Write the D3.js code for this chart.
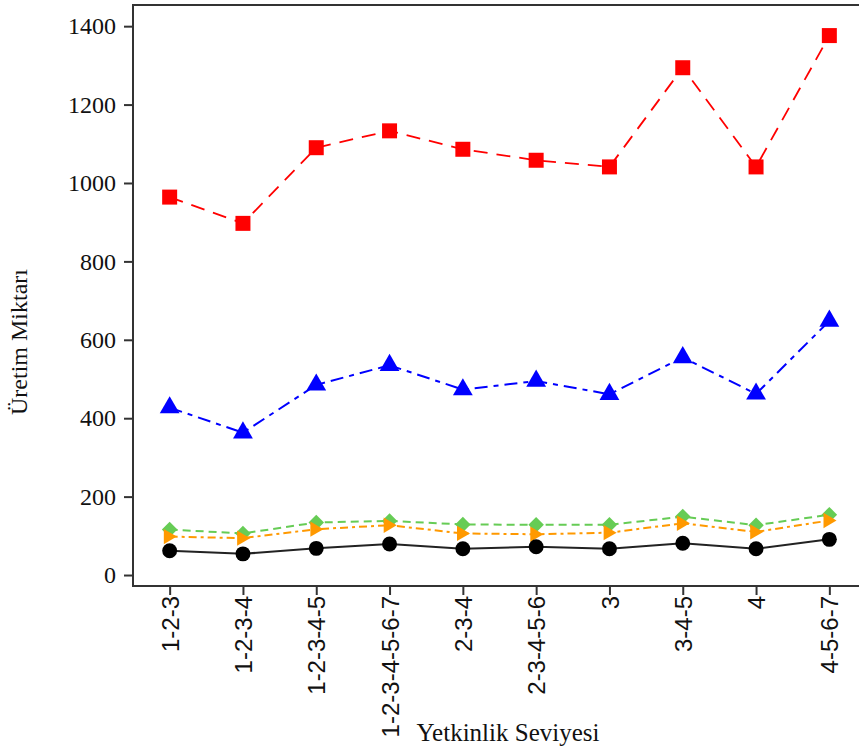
<!DOCTYPE html>
<html>
<head>
<meta charset="utf-8">
<script src="https://cdn.jsdelivr.net/npm/d3@7"></script>
<style>
  html, body { margin: 0; padding: 0; background: #fff; }
  svg { display: block; }
</style>
</head>
<body>
<svg id="chart" width="859" height="754"></svg>
<script>
// Competence levels on the x axis
const categories = ["1-2-3", "1-2-3-4", "1-2-3-4-5", "1-2-3-4-5-6-7", "2-3-4",
                    "2-3-4-5-6", "3", "3-4-5", "4", "4-5-6-7"];

// Production amounts per series
const redValues    = [964, 897, 1090, 1133, 1086, 1058, 1041, 1294, 1041, 1376];
const blueValues   = [427, 363, 485, 535, 473, 495, 461, 555, 462, 648];
const greenValues  = [116, 106, 134, 138, 129, 128, 128, 149, 127, 154];
const orangeValues = [98, 94, 117, 127, 106, 104, 108, 132, 110, 139];
const blackValues  = [62, 54, 68, 79, 67, 72, 67, 81, 67, 91];

const yTicks = [0, 200, 400, 600, 800, 1000, 1200, 1400];

const xTitle = "Yetkinlik Seviyesi";
const yTitle = "Üretim Miktarı";

const svg = d3.select("#chart");

const frame = { left: 133, right: 866, top: 5, bottom: 586 };

const x = d3.scalePoint()
  .domain(categories)
  .range([frame.left, frame.right])
  .padding(0.5);

const y = d3.scaleLinear()
  .domain([-28, 1454])
  .range([frame.bottom, frame.top]);

// Plot frame
svg.append("rect")
  .attr("x", frame.left)
  .attr("y", frame.top)
  .attr("width", frame.right - frame.left)
  .attr("height", frame.bottom - frame.top)
  .attr("fill", "none")
  .attr("stroke", "#333")
  .attr("stroke-width", 2);

// Y axis
const yAxis = svg.append("g")
  .attr("transform", `translate(${frame.left},0)`)
  .call(d3.axisLeft(y).tickValues(yTicks).tickSize(9).tickPadding(8).tickFormat(d3.format("d")));
yAxis.select(".domain").remove();
yAxis.selectAll(".tick line").attr("stroke", "#333").attr("stroke-width", 2);
yAxis.selectAll(".tick text")
  .attr("fill", "#111")
  .style("font-family", "'Liberation Serif', 'Times New Roman', serif")
  .style("font-size", "24px");

// X axis
const xAxis = svg.append("g")
  .attr("transform", `translate(0,${frame.bottom})`)
  .call(d3.axisBottom(x).tickSize(9));
xAxis.select(".domain").remove();
xAxis.selectAll(".tick line").attr("stroke", "#333").attr("stroke-width", 2);
xAxis.selectAll(".tick text")
  .attr("transform", "rotate(-90)")
  .attr("x", -10)
  .attr("y", 0)
  .attr("dy", "0.36em")
  .attr("fill", "#111")
  .style("text-anchor", "end")
  .style("font-family", "'Liberation Sans', Arial, sans-serif")
  .style("font-size", "24px");

// Axis titles
svg.append("text")
  .attr("x", 508)
  .attr("y", 741)
  .attr("text-anchor", "middle")
  .attr("fill", "#111")
  .style("font-family", "'Liberation Serif', 'Times New Roman', serif")
  .style("font-size", "25px")
  .text(xTitle);

svg.append("text")
  .attr("transform", "translate(27,342) rotate(-90)")
  .attr("text-anchor", "middle")
  .attr("fill", "#111")
  .style("font-family", "'Liberation Serif', 'Times New Roman', serif")
  .style("font-size", "24px")
  .text(yTitle);

// Marker shapes
const rightTriangle = {
  draw(ctx, size) {
    const h = Math.sqrt(size) * 1.25;
    const w = h * 0.85;
    ctx.moveTo(w * 0.55, 0);
    ctx.lineTo(-w * 0.45, -h / 2);
    ctx.lineTo(-w * 0.45, h / 2);
    ctx.closePath();
  }
};

const squareDiamond = {
  draw(ctx, size) {
    const r = Math.sqrt(size / 2);
    ctx.moveTo(0, -r);
    ctx.lineTo(r, 0);
    ctx.lineTo(0, r);
    ctx.lineTo(-r, 0);
    ctx.closePath();
  }
};

const series = [
  { values: redValues,    color: "#ff0000", dash: "14,9",     width: 1.8, symbol: d3.symbolSquare,   size: 225 },
  { values: blueValues,   color: "#0000ff", dash: "13,6,5,6", width: 2,   symbol: d3.symbolTriangle, size: 170 },
  { values: greenValues,  color: "#66cc55", dash: "8,5",      width: 2,   symbol: squareDiamond,     size: 120 },
  { values: orangeValues, color: "#ff9900", dash: "8,4,3,4",  width: 2,   symbol: rightTriangle,     size: 150 },
  { values: blackValues,  color: "#000000", dash: null,       width: 2,   symbol: d3.symbolCircle,   size: 175 }
];

const line = d3.line()
  .x((d, i) => x(categories[i]))
  .y(d => y(d));

const plot = svg.append("g");

series.forEach(s => {
  const path = plot.append("path")
    .datum(s.values)
    .attr("d", line)
    .attr("fill", "none")
    .attr("stroke", s.color === "#000000" ? "#222" : s.color)
    .attr("stroke-width", s.width);
  if (s.dash) path.attr("stroke-dasharray", s.dash);

  plot.append("g")
    .selectAll("path")
    .data(s.values)
    .join("path")
    .attr("transform", (d, i) => `translate(${x(categories[i])},${y(d)})`)
    .attr("d", d3.symbol().type(s.symbol).size(s.size))
    .attr("fill", s.color);
});
</script>
</body>
</html>
